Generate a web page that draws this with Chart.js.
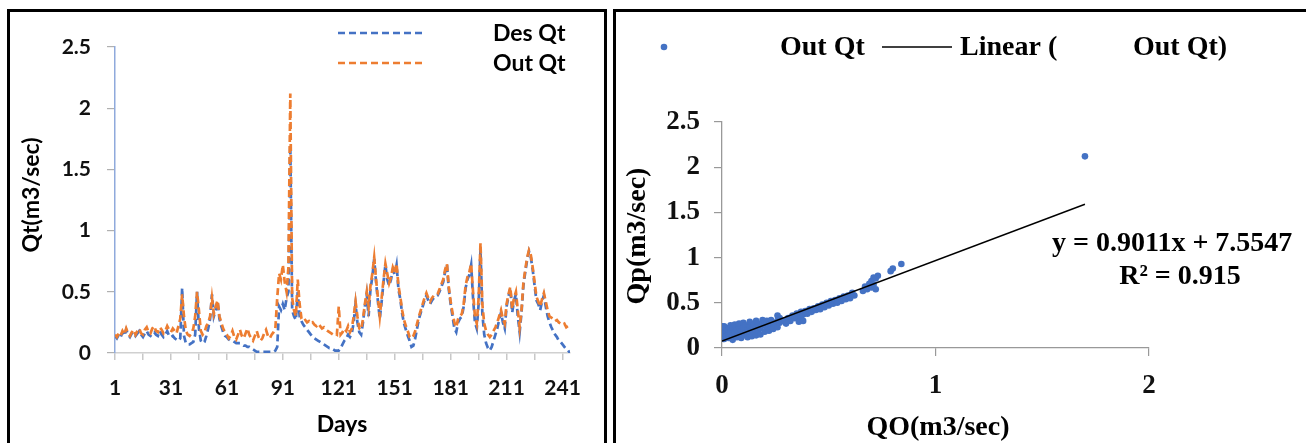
<!DOCTYPE html>
<html><head><meta charset="utf-8">
<script src="https://cdn.jsdelivr.net/npm/chart.js@4.4.1/dist/chart.umd.min.js"></script>
<style>
html,body{margin:0;padding:0;background:#fff;width:1306px;height:443px;overflow:hidden;position:relative;}
#c1{position:absolute;left:0;top:0;}
#c2{position:absolute;left:610px;top:0;}
.box{position:absolute;border:3px solid #000;box-sizing:border-box;}
</style></head><body>
<canvas id="c1" width="610" height="443" style="width:610px;height:443px"></canvas>
<canvas id="c2" width="696" height="443" style="width:696px;height:443px"></canvas>
<div class="box" style="left:7px;top:9px;width:600px;height:450px"></div>
<div class="box" style="left:613px;top:9px;width:700px;height:450px"></div>
<script>
// ---------- Left chart data ----------
const days = Array.from({length: 245}, (_, i) => i + 1);
const dayTickMarks = [1, 16, 31, 46, 61, 76, 91, 106, 121, 136, 151, 166, 181, 196, 211, 226, 241];
const dayTickLabels = [1, 31, 61, 91, 121, 151, 181, 211, 241];
const qtTicks = [0, 0.5, 1, 1.5, 2, 2.5];
const desQt = [
0.14,0.12,0.15,0.13,0.17,0.14,0.19,0.15,0.13,0.16,
0.17,0.14,0.16,0.18,0.15,0.13,0.16,0.18,0.15,0.14,
0.16,0.17,0.15,0.14,0.18,0.15,0.13,0.15,0.18,0.14,
0.13,0.14,0.12,0.11,0.10,0.12,0.53,0.14,0.08,0.07,
0.07,0.08,0.09,0.15,0.50,0.20,0.10,0.08,0.09,0.14,
0.20,0.28,0.48,0.30,0.35,0.42,0.28,0.22,0.17,0.14,
0.13,0.11,0.10,0.10,0.09,0.08,0.08,0.08,0.07,0.06,
0.06,0.05,0.05,0.04,0.03,0.02,0.01,0.01,0.01,0.01,
0.01,0.01,0.01,0.01,0.01,0.01,0.02,0.05,0.38,0.35,
0.40,0.35,0.45,0.50,1.70,0.35,0.30,0.27,0.50,0.30,
0.26,0.23,0.21,0.19,0.17,0.15,0.13,0.12,0.11,0.10,
0.09,0.08,0.07,0.06,0.05,0.04,0.04,0.03,0.02,0.02,
0.02,0.04,0.07,0.10,0.12,0.15,0.13,0.16,0.25,0.40,
0.25,0.17,0.15,0.25,0.38,0.48,0.30,0.52,0.62,0.77,
0.58,0.42,0.28,0.42,0.58,0.72,0.60,0.55,0.60,0.68,
0.64,0.72,0.52,0.44,0.32,0.24,0.19,0.14,0.10,0.05,
0.06,0.12,0.20,0.28,0.33,0.38,0.43,0.47,0.43,0.40,
0.43,0.45,0.46,0.47,0.50,0.54,0.58,0.66,0.72,0.52,
0.40,0.30,0.20,0.17,0.25,0.28,0.30,0.38,0.53,0.60,
0.64,0.72,0.45,0.25,0.20,0.40,0.85,0.32,0.15,0.08,
0.04,0.02,0.05,0.10,0.15,0.20,0.27,0.33,0.25,0.20,
0.38,0.46,0.53,0.33,0.43,0.48,0.30,0.17,0.33,0.55,
0.66,0.76,0.83,0.78,0.68,0.55,0.43,0.40,0.35,0.42,
0.47,0.38,0.30,0.25,0.21,0.18,0.15,0.13,0.10,0.09,
0.07,0.05,0.03,0.02,0.00
];
const outQt = [
0.15,0.13,0.16,0.14,0.18,0.15,0.20,0.16,0.14,0.17,
0.19,0.15,0.18,0.20,0.16,0.15,0.19,0.21,0.17,0.16,
0.20,0.22,0.18,0.17,0.21,0.19,0.16,0.18,0.22,0.19,
0.17,0.20,0.18,0.16,0.22,0.28,0.48,0.30,0.18,0.15,
0.14,0.16,0.20,0.30,0.50,0.35,0.18,0.15,0.17,0.22,
0.25,0.30,0.45,0.32,0.38,0.43,0.30,0.25,0.20,0.17,
0.15,0.12,0.14,0.18,0.13,0.11,0.15,0.19,0.14,0.12,
0.16,0.20,0.15,0.12,0.10,0.14,0.18,0.13,0.10,0.12,
0.16,0.19,0.14,0.12,0.15,0.17,0.20,0.45,0.65,0.60,
0.72,0.58,0.50,0.70,2.12,0.45,0.35,0.30,0.60,0.40,
0.28,0.26,0.27,0.25,0.26,0.24,0.25,0.23,0.22,0.24,
0.22,0.20,0.21,0.19,0.18,0.17,0.16,0.15,0.16,0.15,
0.38,0.15,0.17,0.20,0.18,0.22,0.17,0.20,0.30,0.42,
0.30,0.20,0.19,0.28,0.40,0.50,0.38,0.55,0.65,0.78,
0.60,0.45,0.30,0.45,0.60,0.73,0.65,0.57,0.62,0.70,
0.66,0.73,0.55,0.46,0.35,0.27,0.22,0.18,0.13,0.12,
0.14,0.18,0.24,0.30,0.35,0.40,0.45,0.49,0.45,0.42,
0.45,0.47,0.47,0.48,0.52,0.56,0.60,0.68,0.73,0.54,
0.42,0.33,0.25,0.21,0.28,0.30,0.32,0.40,0.55,0.62,
0.66,0.73,0.50,0.30,0.24,0.45,0.90,0.40,0.24,0.18,
0.15,0.13,0.15,0.18,0.21,0.25,0.30,0.35,0.28,0.24,
0.40,0.48,0.54,0.36,0.45,0.50,0.35,0.21,0.35,0.57,
0.68,0.78,0.84,0.80,0.70,0.58,0.46,0.42,0.38,0.44,
0.49,0.42,0.35,0.30,0.29,0.28,0.26,0.27,0.25,0.24,
0.23,0.24,0.21,0.22,0.20
];

// ---------- Right chart data ----------
const scatterQO = [
0.00,0.00,0.00,0.00,0.01,0.01,0.01,0.01,0.02,0.02,0.02,0.03,0.03,0.03,0.00,
0.04,0.04,0.05,0.05,0.05,0.06,0.06,0.07,0.07,0.08,0.08,0.08,0.09,0.09,0.10,0.10,0.10,
0.11,0.11,0.12,0.12,0.13,0.13,0.13,0.14,0.14,0.15,0.15,0.16,0.16,0.16,0.17,0.17,
0.18,0.18,0.19,0.19,0.20,0.20,0.21,0.21,0.22,0.22,0.23,0.23,0.24,0.24,0.25,0.26,0.26,0.27,0.27,0.26,
0.29,0.30,0.31,0.32,0.33,0.34,0.35,0.36,0.37,0.37,0.38,0.39,0.40,0.41,0.42,0.43,0.44,0.45,0.36,0.38,
0.46,0.47,0.48,0.49,0.50,0.51,0.52,0.53,0.54,0.55,0.56,0.57,0.58,0.59,0.60,0.61,0.62,
0.66,0.67,0.68,0.69,0.70,0.70,0.71,0.72,0.72,0.73,0.71,
0.79,0.80,0.84,1.70
];
const scatterQp = [
0.12,0.15,0.18,0.21,0.10,0.14,0.17,0.24,0.13,0.19,0.22,0.11,0.16,0.20,0.24,
0.18,0.25,0.09,0.14,0.22,0.17,0.26,0.12,0.20,0.15,0.23,0.27,0.11,0.19,0.14,0.22,0.28,
0.17,0.25,0.12,0.20,0.16,0.24,0.29,0.13,0.21,0.18,0.26,0.14,0.23,0.30,0.19,0.27,
0.15,0.22,0.25,0.31,0.18,0.28,0.22,0.30,0.19,0.26,0.24,0.31,0.21,0.28,0.25,0.23,0.30,0.28,0.33,0.36,
0.30,0.27,0.33,0.30,0.36,0.33,0.38,0.35,0.40,0.33,0.37,0.41,0.38,0.43,0.40,0.44,0.42,0.46,0.29,0.30,
0.43,0.48,0.45,0.50,0.47,0.52,0.49,0.53,0.50,0.55,0.52,0.57,0.54,0.58,0.55,0.61,0.58,
0.63,0.68,0.65,0.71,0.67,0.74,0.70,0.77,0.65,0.80,0.78,
0.85,0.88,0.93,2.12
];
const trendQO = [0, 1.70];
const trendQp = [0.077, 1.59];
const qpTicks = [0, 0.5, 1, 1.5, 2, 2.5];
const qoTicks = [0, 1, 2];

const BLUE = '#4472C4', ORANGE = '#ED7D31';

const leftText = {
  id: 'leftText',
  afterDraw(chart) {
    const ctx = chart.ctx;
    ctx.save();
    ctx.fillStyle = '#000';
    ctx.font = 'bold 23px Lato';
    ctx.textAlign = 'center';
    ctx.textBaseline = 'middle';
    ctx.fillText('Days', 342, 425);
    ctx.save();
    ctx.translate(32, 195);
    ctx.rotate(-Math.PI / 2);
    ctx.fillText('Qt(m3/sec)', 0, 0);
    ctx.restore();
    // legend
    ctx.lineWidth = 2.5;
    ctx.setLineDash([7, 4]);
    ctx.strokeStyle = BLUE;
    ctx.beginPath(); ctx.moveTo(338, 33); ctx.lineTo(426, 33); ctx.stroke();
    ctx.strokeStyle = ORANGE;
    ctx.beginPath(); ctx.moveTo(338, 63); ctx.lineTo(426, 63); ctx.stroke();
    ctx.setLineDash([]);
    ctx.textAlign = 'left';
    ctx.fillText(chart.data.datasets[0].label, 493, 34);
    ctx.fillText(chart.data.datasets[1].label, 493, 64);
    ctx.restore();
  }
};

const rightText = {
  id: 'rightText',
  afterDraw(chart) {
    const ctx = chart.ctx;
    ctx.save();
    ctx.fillStyle = '#000';
    ctx.font = 'bold 28px "Liberation Serif"';
    ctx.textBaseline = 'middle';
    ctx.textAlign = 'center';
    ctx.fillText('QO(m3/sec)', 328, 428);
    ctx.save();
    ctx.translate(28, 236);
    ctx.rotate(-Math.PI / 2);
    ctx.fillText('Qp(m3/sec)', 0, 0);
    ctx.restore();
    // legend
    ctx.fillStyle = BLUE;
    ctx.beginPath(); ctx.arc(54, 47, 3.3, 0, Math.PI * 2); ctx.fill();
    ctx.fillStyle = '#000';
    ctx.textAlign = 'left';
    ctx.fillText('Out Qt', 170, 48);
    ctx.strokeStyle = '#000'; ctx.lineWidth = 1.5;
    ctx.beginPath(); ctx.moveTo(272, 47); ctx.lineTo(342, 47); ctx.stroke();
    ctx.fillText('Linear (', 350, 48);
    ctx.fillText('Out Qt)', 523, 48);
    // equation
    ctx.textBaseline = 'alphabetic';
    ctx.fillText('y = 0.9011x + 7.5547', 442, 251);
    ctx.textAlign = 'center';
    ctx.fillText('R\u00B2 = 0.915', 570, 284);
    ctx.restore();
  }
};

function makeCharts() {
  new Chart(document.getElementById('c1'), {
    type: 'line',
    data: {
      datasets: [
        { label: 'Des Qt', data: days.map((d, i) => ({ x: d - 1, y: desQt[i] })),
          borderColor: BLUE, borderWidth: 2.7, borderDash: [7, 4], pointRadius: 0, tension: 0, fill: false, order: 1 },
        { label: 'Out Qt', data: days.map((d, i) => ({ x: d - 1, y: outQt[i] })),
          borderColor: ORANGE, borderWidth: 2.7, borderDash: [7, 4], pointRadius: 0, tension: 0, fill: false, order: 0 }
      ]
    },
    options: {
      responsive: false, animation: false, events: [], devicePixelRatio: 1,
      layout: { padding: { top: 47, right: 40, left: 0, bottom: 0 } },
      plugins: { legend: { display: false }, tooltip: { enabled: false } },
      scales: {
        x: {
          type: 'linear', min: 0, max: 244,
          afterFit(s) { s.height = 90; },
          afterBuildTicks(s) { s.ticks = dayTickMarks.map(d => ({ value: d - 1 })); },
          ticks: { autoSkip: false, maxRotation: 0, minRotation: 0, padding: 16, color: '#111',
            font: { family: 'Lato', weight: 'bold', size: 21 },
            callback: (v) => dayTickLabels.includes(v + 1) ? String(v + 1) : '' },
          grid: { drawOnChartArea: false, drawTicks: true, tickLength: 7, tickColor: '#C8C8C8', lineWidth: 1.5 },
          border: { display: true, color: '#D0D0D0', width: 1.5 }
        },
        y: {
          min: 0, max: 2.5,
          afterFit(s) { s.width = 115; },
          afterBuildTicks(s) { s.ticks = qtTicks.map(v => ({ value: v })); },
          ticks: { padding: 16, color: '#111', font: { family: 'Lato', weight: 'bold', size: 21 },
            callback: (v) => String(v) },
          grid: { drawOnChartArea: false, drawTicks: true, tickLength: 8, tickColor: '#B0B0B0', lineWidth: 1.2 },
          border: { display: true, color: '#8FAADC', width: 1.5 }
        }
      }
    },
    plugins: [leftText]
  });

  new Chart(document.getElementById('c2'), {
    type: 'scatter',
    data: {
      datasets: [
        { label: 'Out Qt', data: scatterQO.map((x, i) => ({ x: x, y: scatterQp[i] })),
          backgroundColor: BLUE, borderColor: BLUE, pointRadius: 3.3, pointBorderWidth: 0, order: 1 },
        { type: 'line', label: 'Linear ( Out Qt)', data: trendQO.map((x, i) => ({ x: x, y: trendQp[i] })),
          borderColor: '#000', borderWidth: 1.4, pointRadius: 0, showLine: true, fill: false, order: 0 }
      ]
    },
    options: {
      responsive: false, animation: false, events: [], devicePixelRatio: 1,
      layout: { padding: { top: 122, right: 157, left: 0, bottom: 0 } },
      plugins: { legend: { display: false }, tooltip: { enabled: false } },
      scales: {
        x: {
          type: 'linear', min: 0, max: 2,
          afterFit(s) { s.height = 95; },
          afterBuildTicks(s) { s.ticks = qoTicks.map(v => ({ value: v })); },
          ticks: { padding: 14, color: '#111', maxRotation: 0,
            font: { family: 'Liberation Serif', weight: 'bold', size: 27 }, callback: (v) => String(v) },
          grid: { drawOnChartArea: false, drawTicks: true, tickLength: 8, tickColor: '#999', lineWidth: 1.2 },
          border: { display: true, color: '#999', width: 1.3 }
        },
        y: {
          min: 0, max: 2.5,
          afterFit(s) { s.width = 112; },
          afterBuildTicks(s) { s.ticks = qpTicks.map(v => ({ value: v })); },
          ticks: { padding: 14, color: '#111',
            font: { family: 'Liberation Serif', weight: 'bold', size: 27 }, callback: (v) => String(v) },
          grid: { drawOnChartArea: false, drawTicks: true, tickLength: 8, tickColor: '#999', lineWidth: 1.2 },
          border: { display: true, color: '#999', width: 1.3 }
        }
      }
    },
    plugins: [rightText]
  });
}

let started = false;
function start() { if (started) return; started = true; makeCharts(); }
if (document.fonts && document.fonts.load) {
  Promise.all([
    document.fonts.load('bold 21px Lato'),
    document.fonts.load('bold 27px "Liberation Serif"')
  ]).then(start, start);
  setTimeout(start, 1500);
} else { start(); }
</script>
</body></html>
